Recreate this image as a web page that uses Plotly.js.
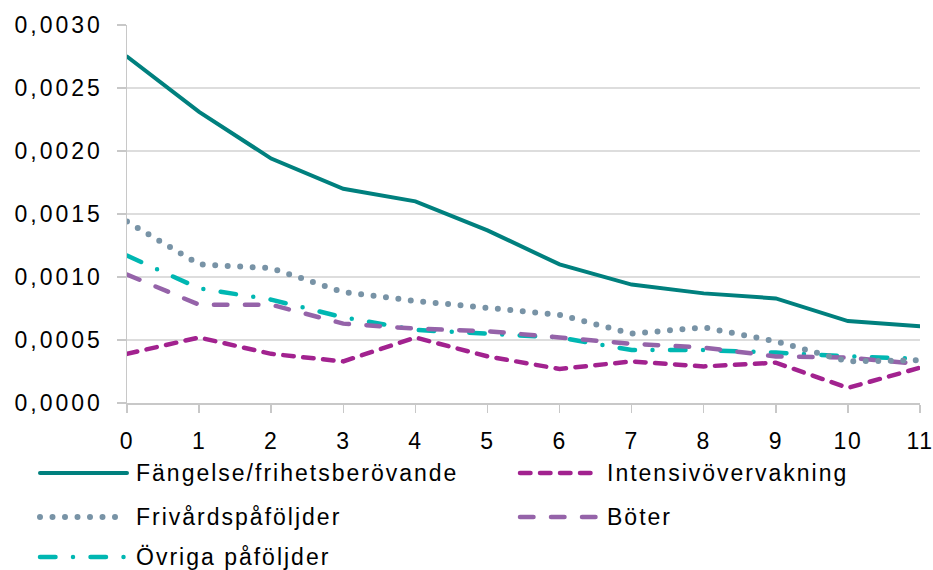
<!DOCTYPE html>
<html>
<head>
<meta charset="utf-8">
<script src="https://cdn.plot.ly/plotly-3.0.1.min.js"></script>
<style>
html,body{margin:0;padding:0;background:#fff;}
#chart{width:933px;height:570px;}
.main-svg path.js-line, .main-svg .shapelayer path{stroke-linecap:round;}
.main-svg .annotation-text{letter-spacing:2px;}
.main-svg .ytick text{letter-spacing:3px;}
.main-svg .xtick text{letter-spacing:1.5px;}
</style>
</head>
<body>
<div id="chart"></div>
<script>
// ---- data ----
const years = [0,1,2,3,4,5,6,7,8,9,10,11];
const seriesNames = ["Fängelse/frihetsberövande","Intensivövervakning","Frivårdspåföljder","Böter","Övriga påföljder"];
const fangelse  = [0.00275,0.00231,0.00194,0.00170,0.00160,0.00137,0.00110,0.00094,0.00087,0.00083,0.00065,0.00061];
const intensiv  = [0.00039,0.00052,0.00039,0.00033,0.00052,0.00037,0.00027,0.00033,0.00029,0.00032,0.00012,0.00028];
const frivard   = [0.00144,0.00110,0.00107,0.00088,0.00081,0.00075,0.00070,0.00055,0.00060,0.00049,0.00033,0.00034];
const boter     = [0.00102,0.00078,0.00078,0.00063,0.00059,0.00057,0.00052,0.00047,0.00044,0.00037,0.00036,0.00031];
const ovriga    = [0.00117,0.00091,0.00082,0.00068,0.00058,0.00055,0.00052,0.00042,0.00042,0.00040,0.00037,0.00035];
const seriesValues = [fangelse, intensiv, frivard, boter, ovriga];

// ---- styles ----
const styles = [
  {color:"#00807E", width:4,   dash:"solid"},
  {color:"#A2228F", width:4.5, dash:"10.5px,9.5px"},
  {color:"#7893A6", width:6,   dash:"0px,12.5px"},
  {color:"#9563A9", width:4.5, dash:"13.5px,17.5px"},
  {color:"#00B7B2", width:4.5, dash:"15.5px,17.5px,0px,17.5px"}
];
const drawOrder = [4,3,2,1,0];

const W = 933, H = 570;
const M = {l:127, r:13, t:25, b:167};
const pw = W - M.l - M.r, ph = H - M.t - M.b;
const px = x => (x - M.l) / pw;
const py = y => (H - M.b - y) / ph;
const FONT = "Liberation Sans, Arial, sans-serif";

const traces = drawOrder.map(i => ({
  x: years, y: seriesValues[i], name: seriesNames[i], type: "scatter", mode: "lines",
  line: {color: styles[i].color, width: styles[i].width, dash: styles[i].dash},
  showlegend: false, hoverinfo: "skip"
}));

// manual legend (pixel positions)
const legendSlots = [
  {lx0:40,  lx1:127, tx:134, y:473},
  {lx0:520, lx1:600, tx:605, y:473},
  {lx0:40,  lx1:127, tx:134, y:517},
  {lx0:520, lx1:600, tx:605, y:517},
  {lx0:40,  lx1:127, tx:134, y:557}
];
const shapes = [], annotations = [];
seriesNames.forEach((n, i) => {
  const s = legendSlots[i];
  shapes.push({type:"line", xref:"paper", yref:"paper", x0:px(s.lx0), x1:px(s.lx1), y0:py(s.y), y1:py(s.y),
    line:{color:styles[i].color, width:styles[i].width, dash:styles[i].dash}});
  annotations.push({xref:"paper", yref:"paper", x:px(s.tx), y:py(s.y), xanchor:"left", yanchor:"middle", align:"left",
    text:n, showarrow:false, font:{family:FONT, size:23, color:"#000"}});
});

const layout = {
  width: W, height: H,
  margin: M,
  paper_bgcolor:"#fff", plot_bgcolor:"#fff",
  separators: ", ",
  font: {family: FONT, size: 23, color: "#000"},
  xaxis: {
    range:[0,11], tickmode:"linear", tick0:0, dtick:1,
    showgrid:false, zeroline:false,
    showline:true, linecolor:"#C8C8C8", linewidth:1.5,
    ticks:"outside", ticklen:8, tickwidth:1.5, tickcolor:"#C8C8C8",
    ticklabelstandoff: 9,
    tickfont:{family:FONT, size:23, color:"#000"}
  },
  yaxis: {
    range:[0,0.003], tickmode:"linear", tick0:0, dtick:0.0005, tickformat:".4f",
    showgrid:true, gridcolor:"#DDDDDD", gridwidth:1.5, zeroline:false,
    showline:true, linecolor:"#C8C8C8", linewidth:1.5,
    ticks:"outside", ticklen:9, tickwidth:1.5, tickcolor:"#C8C8C8",
    ticklabelstandoff: 9,
    tickfont:{family:FONT, size:23, color:"#000"}
  },
  shapes, annotations,
  showlegend:false
};

Plotly.newPlot("chart", traces, layout, {displayModeBar:false, staticPlot:true});
</script>
</body>
</html>
